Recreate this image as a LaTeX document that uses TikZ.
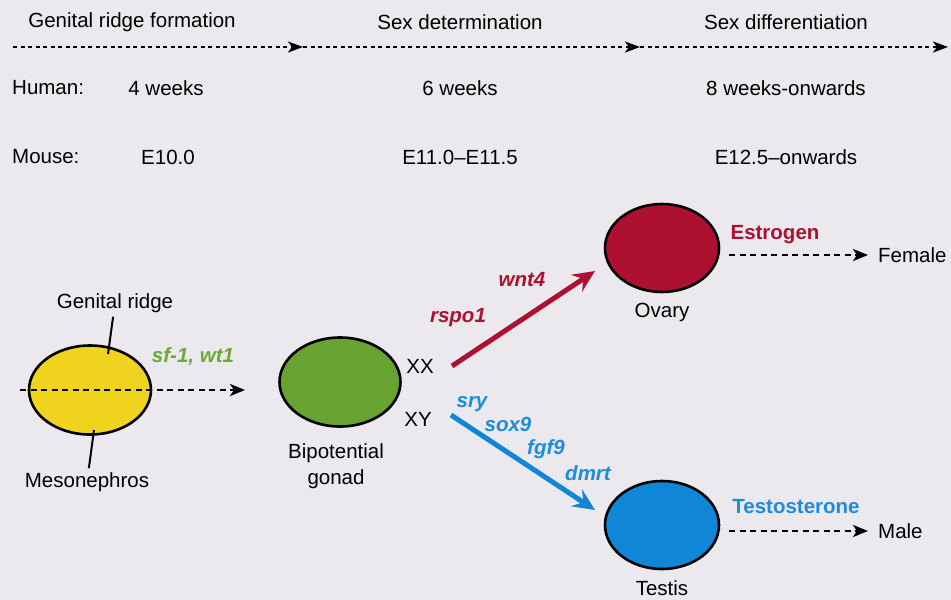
\documentclass[tikz,border=0pt]{standalone}
\usepackage{fontspec}
\setmainfont{Liberation Sans}
\usetikzlibrary{shapes.geometric, arrows.meta, positioning, calc}
\definecolor{bg}{RGB}{235,233,237}
\definecolor{ridgeyellow}{RGB}{240,211,30}
\definecolor{gonadgreen}{RGB}{102,163,48}
\definecolor{ovaryred}{RGB}{173,16,48}
\definecolor{testisblue}{RGB}{16,134,214}
\definecolor{genegreen}{RGB}{108,170,54}
\definecolor{geneblue}{RGB}{28,140,222}
\tikzstyle{txt} = [inner sep=0pt,font=\fontsize{20.5}{26}\selectfont]
\tikzstyle{gene} = [inner sep=0pt,font=\fontsize{20.5}{26}\selectfont\bfseries\itshape]
\tikzstyle{hormone} = [inner sep=0pt,font=\fontsize{20.5}{26}\selectfont\bfseries]
\tikzstyle{gland} = [ellipse,draw=black,line width=2.6pt,inner sep=0pt,minimum width=114pt,minimum height=88pt]
\tikzstyle{timeline} = [line width=2.6pt,dash pattern=on 4pt off 3.5pt,-{Stealth[length=15pt,width=11pt,inset=4pt]}]
\tikzstyle{dashedarrow} = [line width=2.6pt,dash pattern=on 6pt off 4.5pt,-{Stealth[length=15pt,width=12pt,inset=4pt]}]
\tikzstyle{genearrow} = [line width=5pt,-{Stealth[length=22pt,width=20pt,inset=8pt]}]
\tikzstyle{leader} = [line width=2pt]

\begin{document}
\begin{tikzpicture}[x=1pt,y=-1pt,node distance=10pt]
   	\fill[bg] (0,0) rectangle (951,600);
   	% time line
   	\node[txt] (ridgeform) at (132,22) {Genital ridge formation};
   	\node[txt] (sexdet) at (460,22) {Sex determination};
   	\node[txt] (sexdiff) at (786,22) {Sex differentiation};
   	\coordinate (t0) at (13,47);
   	\coordinate (t1) at (303,47);
   	\coordinate (t2) at (640,47);
   	\coordinate (t3) at (948,47);
    \path[timeline]
    (t0) edge (t1)
    (t1) edge (t2)
    (t2) edge (t3);
   	% ages
   	\node[txt,anchor=west] (human) at (12,88) {Human:};
   	\node[txt] (h_0) at (166,88) {4 weeks};
   	\node[txt] (h_1) at (460,88) {6 weeks};
   	\node[txt] (h_2) at (786,88) {8 weeks-onwards};
   	\node[txt,anchor=west] (mouse) at (12,157) {Mouse:};
   	\node[txt] (m_0) at (168,157) {E10.0};
   	\node[txt] (m_1) at (460,157) {E11.0--E11.5};
   	\node[txt] (m_2) at (786,157) {E12.5--onwards};
   	% gonads
   	\node[gland,fill=ridgeyellow,minimum width=122pt,minimum height=89pt] (ridge) at (90,390) {};
   	\node[gland,fill=gonadgreen,minimum width=121pt,minimum height=89pt] (gonad) at (340,382) {};
   	\node[gland,fill=ovaryred] (ovary) at (662,248) {};
   	\node[gland,fill=testisblue] (testis) at (662,525) {};
   	% genital ridge
   	\coordinate (ridgein) at (20,390);
   	\coordinate (ridgeout) at (245,390);
   	\draw[dashedarrow] (ridgein) -- (ridgeout);
   	\node[txt,inner sep=4pt] (ridgelabel) at (115,303) {Genital ridge};
   	\node[txt,inner sep=4pt] (mesolabel) at (87,482) {Mesonephros};
   	\coordinate (ridgept) at (108,354);
   	\coordinate (mesopt) at (94,430);
   	\draw[leader] (ridgelabel) -- (ridgept);
   	\draw[leader] (mesolabel) -- (mesopt);
   	\node[gene,text=genegreen] (sf1) at (193,357) {sf-1, wt1};
   	% bipotential gonad
   	\node[txt,align=center] (gonadlabel) at (336,466) {Bipotential\\gonad};
   	\node[txt] (xx) at (420,366) {XX};
   	\node[txt] (xy) at (418,419) {XY};
   	\coordinate (xxout) at (452,366);
   	\coordinate (ovaryin) at (595,271);
   	\coordinate (xyout) at (451,415);
   	\coordinate (testisin) at (595,510);
   	\draw[genearrow,ovaryred] (xxout) -- (ovaryin);
   	\draw[genearrow,testisblue] (xyout) -- (testisin);
   	\node[gene,text=ovaryred] (rspo1) at (458,318) {rspo1};
   	\node[gene,text=ovaryred] (wnt4) at (522,280) {wnt4};
   	\node[gene,text=geneblue] (sry) at (472,404) {sry};
   	\node[gene,text=geneblue] (sox9) at (508,424) {sox9};
   	\node[gene,text=geneblue] (fgf9) at (546,449) {fgf9};
   	\node[gene,text=geneblue] (dmrt) at (588,473) {dmrt};
   	% differentiation
   	\node[txt,below=10pt of ovary] (ovarylabel) {Ovary};
   	\node[txt,below=10pt of testis] (testislabel) {Testis};
   	\node[hormone,text=ovaryred] (estrogen) at (775,235) {Estrogen};
   	\node[hormone,text=geneblue] (testo) at (796,507) {Testosterone};
   	\coordinate (ovaryout) at (729,255);
   	\coordinate (femaletip) at (868,255);
   	\coordinate (testisout) at (729,531);
   	\coordinate (maletip) at (868,531);
   	\draw[dashedarrow] (ovaryout) -- (femaletip);
   	\draw[dashedarrow] (testisout) -- (maletip);
   	\node[txt,right=10pt of femaletip] (female) {Female};
   	\node[txt,right=10pt of maletip] (male) {Male};
\end{tikzpicture}
\end{document}
